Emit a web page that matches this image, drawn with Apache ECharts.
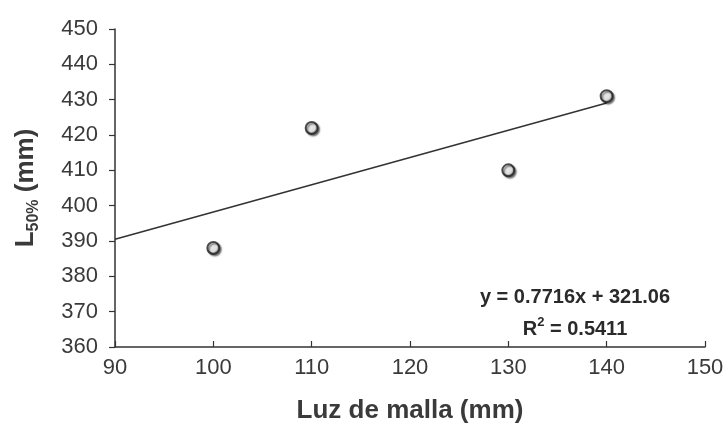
<!DOCTYPE html>
<html><head><meta charset="utf-8">
<script src="https://cdn.jsdelivr.net/npm/echarts@6/dist/echarts.min.js"></script>
<style>html,body{margin:0;padding:0;background:#fff}#c{width:727px;height:430px}</style>
</head><body><div id="c"></div>
<script>
const meshSizes = [100, 110, 130, 140];
const l50Values = [388, 422, 410, 431];
const trendX = [90, 140];
const slope = 0.7716, intercept = 321.06;
const eqText = 'y = 0.7716x + 321.06';
const r2Value = '0.5411';

const pts = meshSizes.map((x, i) => [x, l50Values[i]]);
const trend = trendX.map(x => [x, +(slope * x + intercept).toFixed(3)]);
const font = 'Liberation Sans, Arial, sans-serif';
const chart = echarts.init(document.getElementById('c'));
chart.setOption({
  backgroundColor: '#fff',
  animation: false,
  grid: {left: 115, right: 22, top: 29, bottom: 83},
  xAxis: {
    type: 'value', min: 90, max: 150, interval: 10,
    name: 'Luz de malla (mm)', nameLocation: 'middle', nameGap: 51,
    nameTextStyle: {fontFamily: font, fontSize: 26, fontWeight: 'bold', color: '#3a3a3a'},
    axisLine: {lineStyle: {color: '#333', width: 1.5}},
    axisTick: {inside: true, length: 6, lineStyle: {color: '#333', width: 1.2}},
    axisLabel: {fontFamily: font, fontSize: 22, color: '#3a3a3a', margin: 10},
    splitLine: {show: false}
  },
  yAxis: {
    type: 'value', min: 360, max: 450, interval: 10,
    name: '{a|L}{b|50%}{a| (mm)}', nameLocation: 'middle', nameGap: 76, nameRotate: 90,
    nameTextStyle: {
      color: '#3a3a3a',
      rich: {
        a: {fontFamily: font, fontSize: 26, fontWeight: 'bold', color: '#3a3a3a', lineHeight: 30, verticalAlign: 'bottom'},
        b: {fontFamily: font, fontSize: 16, fontWeight: 'bold', color: '#3a3a3a', lineHeight: 30, verticalAlign: 'bottom', padding: [0, 0, -3, 0]}
      }
    },
    axisLine: {show: true, lineStyle: {color: '#333', width: 1.5}},
    axisTick: {show: true, inside: false, length: 6, lineStyle: {color: '#333', width: 1.2}},
    axisLabel: {fontFamily: font, fontSize: 22, color: '#3a3a3a', margin: 17},
    splitLine: {show: false}
  },
  series: [
    {
      type: 'line', data: trend, showSymbol: false, symbol: 'none',
      lineStyle: {color: '#333', width: 1.6}, z: 2
    },
    {
      type: 'scatter', data: pts, symbolSize: 12, z: 3,
      itemStyle: {
        color: {type: 'radial', x: 0.42, y: 0.42, r: 0.55,
          colorStops: [{offset: 0, color: '#fff'}, {offset: 0.6, color: '#f2f2f2'}, {offset: 1, color: '#555'}]},
        borderColor: '#222', borderWidth: 2,
        shadowColor: 'rgba(0,0,0,0.55)', shadowBlur: 1.5, shadowOffsetX: 1.5, shadowOffsetY: 1.5
      }
    }
  ],
  graphic: [
    {type: 'text', x: 575, y: 297, style: {text: eqText, align: 'center', verticalAlign: 'middle',
      font: 'bold 20px ' + font, fill: '#2a2a2a'}},
    {type: 'text', x: 575, y: 327, style: {
      text: '{a|R}{s|2}{a| = ' + r2Value + '}', align: 'center', verticalAlign: 'middle',
      rich: {
        a: {font: 'bold 20px ' + font, fill: '#2a2a2a', lineHeight: 24, verticalAlign: 'bottom'},
        s: {font: 'bold 13px ' + font, fill: '#2a2a2a', lineHeight: 24, verticalAlign: 'top', padding: [1, 0, 0, 0]}
      }}}
  ]
});
</script></body></html>
